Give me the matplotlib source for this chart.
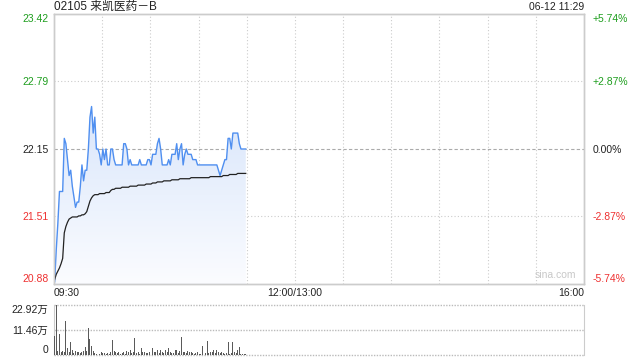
import matplotlib
matplotlib.use("Agg")
import matplotlib.pyplot as plt
import numpy as np
from matplotlib.colors import LinearSegmentedColormap
from matplotlib.patches import Polygon

plt.rcParams["font.family"] = ["Liberation Sans", "Noto Sans CJK SC", "DejaVu Sans"]

TITLE = "02105 来凯医药－B"
STAMP = "06-12 11:29"
PREV_CLOSE = 22.15
MAX_PCT = 5.74
TIME_LABELS = ["09:30", "12:00/13:00", "16:00"]
VOL_TICKS = [0, 11.46, 22.92]
VOL_LABELS = ["0", "11.46万", "22.92万"]

# one value per minute, 09:30 .. 11:29
price = [
    20.90, 21.20, 21.45, 21.75, 21.75, 21.75, 22.25, 22.20, 22.05, 21.90,
    21.95, 21.80, 21.70, 21.60, 21.65, 21.65, 21.80, 22.00, 21.85, 21.95,
    21.95, 22.15, 22.45, 22.55, 22.30, 22.45, 22.15, 22.15, 22.10, 22.00,
    22.15, 22.05, 22.15, 22.00, 22.00, 22.15, 22.15, 22.05, 22.00, 22.00,
    22.00, 22.00, 22.00, 22.20, 22.20, 22.15, 22.00, 22.05, 22.00, 22.00,
    22.00, 22.00, 22.00, 22.05, 22.00, 22.00, 22.00, 22.00, 22.05, 22.05,
    22.00, 22.10, 22.10, 22.10, 22.20, 22.25, 22.15, 22.00, 22.00, 22.00,
    22.00, 22.05, 22.00, 22.10, 22.10, 22.10, 22.20, 22.05, 22.15, 22.20,
    22.00, 22.10, 22.15, 22.10, 22.10, 22.10, 22.05, 22.05, 22.05, 22.00,
    22.00, 22.00, 22.00, 22.00, 22.00, 22.00, 22.00, 22.00, 22.00, 22.00,
    22.00, 22.00, 21.95, 21.90, 21.95, 22.00, 22.05, 22.05, 22.25, 22.25,
    22.15, 22.30, 22.30, 22.30, 22.30, 22.20, 22.15, 22.15, 22.15, 22.15,
]
avg_price = [
    20.92, 20.97, 21.00, 21.03, 21.07, 21.12, 21.36, 21.42, 21.46, 21.49,
    21.50, 21.51, 21.51, 21.51, 21.51, 21.52, 21.52, 21.53, 21.53, 21.54,
    21.56, 21.61, 21.66, 21.69, 21.71, 21.72, 21.72, 21.72, 21.73, 21.73,
    21.73, 21.73, 21.74, 21.74, 21.74, 21.76, 21.77, 21.77, 21.78, 21.78,
    21.78, 21.78, 21.79, 21.79, 21.79, 21.79, 21.79, 21.80, 21.80, 21.80,
    21.80, 21.80, 21.81, 21.81, 21.81, 21.81, 21.81, 21.82, 21.82, 21.82,
    21.82, 21.83, 21.83, 21.83, 21.84, 21.84, 21.84, 21.84, 21.85, 21.85,
    21.85, 21.85, 21.85, 21.86, 21.86, 21.86, 21.86, 21.86, 21.87, 21.87,
    21.87, 21.87, 21.87, 21.87, 21.87, 21.88, 21.88, 21.88, 21.88, 21.88,
    21.88, 21.88, 21.88, 21.88, 21.88, 21.88, 21.88, 21.89, 21.89, 21.89,
    21.89, 21.89, 21.89, 21.89, 21.89, 21.90, 21.90, 21.90, 21.90, 21.91,
    21.91, 21.91, 21.91, 21.91, 21.92, 21.92, 21.92, 21.92, 21.92, 21.92,
]
# volume in 万 shares
volume = [
    8.9, 22.92, 2.0, 9.7, 1.5, 2.0, 1.2, 15.6, 3.4, 1.5,
    5.8, 2.5, 1.0, 2.0, 1.2, 1.5, 1.0, 1.2, 2.0, 3.5,
    2.0, 12.3, 7.3, 4.0, 2.0, 1.0, 0.5, 1.5, 0.6, 1.2,
    0.8, 1.0, 0.4, 1.0, 0.5, 1.2, 7.0, 2.0, 1.5, 1.0,
    1.2, 0.6, 0.8, 1.5, 0.5, 1.8, 1.2, 2.5, 0.8, 1.5,
    7.6, 1.0, 1.5, 0.4, 3.0, 1.2, 1.5, 0.8, 1.0, 1.2,
    5.0, 3.0, 1.5, 1.5, 2.3, 1.0, 2.2, 1.5, 1.0, 2.3,
    1.2, 3.0, 1.5, 1.0, 0.8, 2.3, 2.3, 1.0, 2.0, 8.4,
    1.5, 1.5, 1.0, 1.8, 1.5, 1.5, 0.8, 0.5, 0.8, 1.5,
    0.5, 0.3, 4.1, 1.0, 0.8, 6.6, 0.8, 1.5, 1.5, 2.3,
    0.8, 2.5, 1.5, 0.8, 1.5, 1.0, 0.5, 1.0, 5.8, 0.3,
    0.8, 5.8, 1.5, 0.8, 2.3, 3.8, 0.3, 0.3, 0.3, 0.3,
]

GREEN = "#1e9e1e"
RED = "#ee3030"
GRID = "#cccccc"
SPINE = "#cccccc"

x = np.arange(len(price)) + 0.4
hi = PREV_CLOSE * (1 + MAX_PCT / 100)
lo = PREV_CLOSE * (1 - MAX_PCT / 100)
price_ticks = np.linspace(lo, hi, 5)

fig = plt.figure(figsize=(6.4, 3.6), dpi=100)
ax = fig.add_axes([54 / 640, 1 - 284 / 360, 530 / 640, 270 / 360])
axv = fig.add_axes([54 / 640, 1 - 355 / 360, 530 / 640, 50 / 360])

# price panel
ax.set_xlim(0, 330)
ax.set_ylim(lo, hi)
for t in range(30, 330, 30):
    ax.axvline(t, color=GRID, lw=0.8, ls=(0, (1, 2)), zorder=1)
for v in price_ticks[1:-1]:
    if abs(v - PREV_CLOSE) < 1e-6:
        ax.axhline(v, color="#aaaaaa", lw=0.8, ls=(0, (3, 2)), zorder=1)
    else:
        ax.axhline(v, color=GRID, lw=0.8, ls=(0, (1, 2)), zorder=1)

# gradient fill under price line
cmap = LinearSegmentedColormap.from_list("fade", ["#fbfcff", "#d9e6fb"])
grad = np.linspace(0, 1, 256).reshape(-1, 1)
top = max(price)
img = ax.imshow(grad, cmap=cmap, origin="lower", aspect="auto",
                extent=[0, 330, lo, top], zorder=2)
verts = [(x[0], lo)] + list(zip(x, price)) + [(x[-1], lo)]
poly = Polygon(verts, closed=True, facecolor="none", edgecolor="none")
ax.add_patch(poly)
img.set_clip_path(poly)

ax.plot(x, price, color="#4f8ff0", lw=1.0, zorder=4)
ax.plot(x, avg_price, color="#222222", lw=0.9, zorder=4)

ax.set_xticks([])
ax.set_yticks(price_ticks)
ax.set_yticklabels([f"{v:.2f}" for v in price_ticks])
ax.tick_params(axis="y", length=0, pad=4, labelsize=7.5)
for lbl, v in zip(ax.get_yticklabels(), price_ticks):
    lbl.set_color(GREEN if v > PREV_CLOSE + 1e-6 else RED if v < PREV_CLOSE - 1e-6 else "#222222")
ax.get_yticklabels()[0].set_va("bottom")
ax.get_yticklabels()[-1].set_va("top")

axr = ax.twinx()
axr.set_ylim(lo, hi)
axr.set_yticks(price_ticks)
pcts = (price_ticks / PREV_CLOSE - 1) * 100
axr.set_yticklabels([f"{p:+.2f}%" if abs(p) > 1e-6 else "0.00%" for p in pcts])
axr.tick_params(axis="y", length=0, pad=6, labelsize=7.5)
for lbl, p in zip(axr.get_yticklabels(), pcts):
    lbl.set_color(GREEN if p > 1e-6 else RED if p < -1e-6 else "#222222")
axr.get_yticklabels()[0].set_va("bottom")
axr.get_yticklabels()[-1].set_va("top")

for a in (ax, axr):
    for s in a.spines.values():
        s.set_color(SPINE)
        s.set_linewidth(1.0)

ax.text(0.985, 0.015, "sina.com", transform=ax.transAxes, ha="right", va="bottom",
        color="#c8c8c8", fontsize=7.5, zorder=5)

# time labels
fig.text(54 / 640, 1 - 293 / 360, TIME_LABELS[0], ha="left", va="center", fontsize=7.5, color="#222222")
fig.text(295 / 640, 1 - 293 / 360, TIME_LABELS[1], ha="center", va="center", fontsize=7.5, color="#222222")
fig.text(584 / 640, 1 - 293 / 360, TIME_LABELS[2], ha="right", va="center", fontsize=7.5, color="#222222")

fig.text(54 / 640, 1 - 7 / 360, TITLE, ha="left", va="center", fontsize=8.5, color="#222222")
fig.text(584 / 640, 1 - 7 / 360, STAMP, ha="right", va="center", fontsize=7.5, color="#222222")

# volume panel
axv.set_xlim(0, 330)
axv.set_ylim(0, VOL_TICKS[-1])
axv.bar(x, volume, width=0.6, color="#5a5a5a", zorder=3)
for v in VOL_TICKS:
    axv.axhline(v, color="#bbbbbb", lw=1.0, ls=(0, (1, 1)), zorder=1, clip_on=False)
axv.set_xticks([])
axv.set_yticks(VOL_TICKS)
axv.set_yticklabels(VOL_LABELS)
axv.tick_params(axis="y", length=0, pad=4, labelsize=7.5, labelcolor="#222222")
axv.get_yticklabels()[0].set_va("bottom")
axv.get_yticklabels()[-1].set_va("top")
axv.spines["top"].set_visible(False)
axv.spines["bottom"].set_visible(False)
axv.spines["left"].set_color(SPINE)
axv.spines["right"].set_color(SPINE)

fig.savefig("out.png", dpi=100)
